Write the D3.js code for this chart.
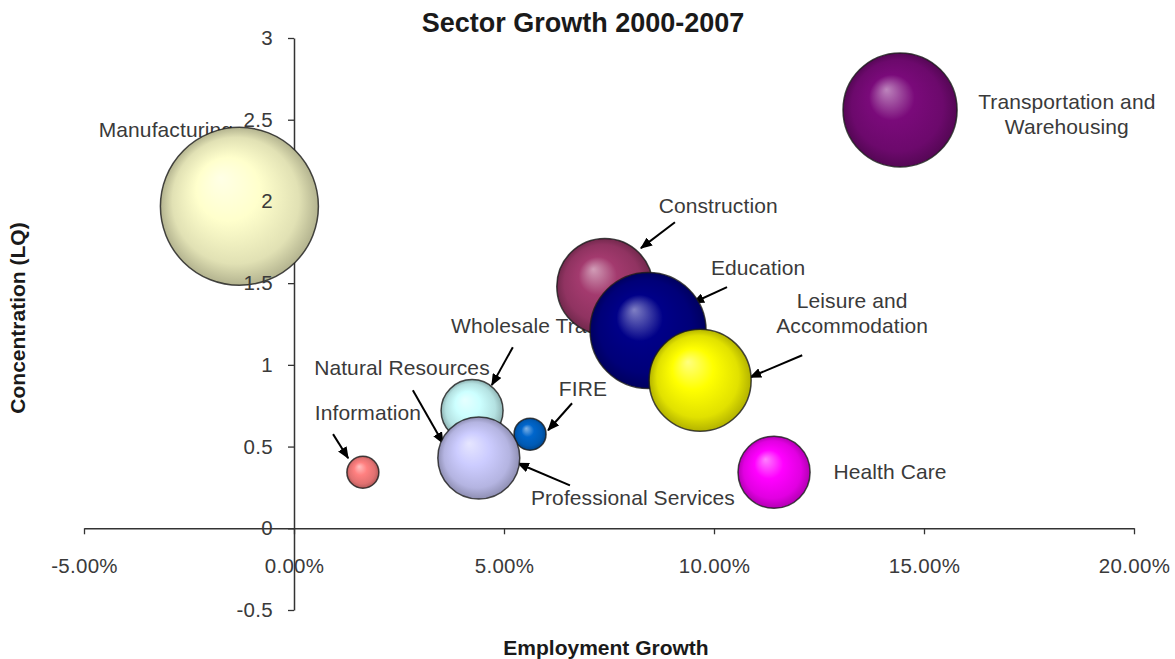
<!DOCTYPE html>
<html>
<head>
<meta charset="utf-8">
<script src="https://cdn.jsdelivr.net/npm/d3@7"></script>
<style>
  html, body { margin: 0; padding: 0; background: #fff; }
  svg { display: block; font-family: "Liberation Sans", Arial, sans-serif; }
</style>
</head>
<body>
<svg id="chart" width="1175" height="659"></svg>
<script>
// ---- data ----
const categories = ["Natural Resources", "Construction", "Manufacturing", "Wholesale Trade",
  "Transportation and Warehousing", "Information", "FIRE", "Professional Services",
  "Education", "Health Care", "Leisure and Accommodation"];
const growth = [0.039, 0.074, -0.013, 0.0424, 0.1443, 0.0164, 0.0562, 0.044, 0.0843, 0.1143, 0.0967];
const concentration = [0.52, 1.48, 1.97, 0.72, 2.56, 0.343, 0.576, 0.43, 1.21, 0.343, 0.906];
const bubbleSize = [2.3, 36.9, 100, 15.4, 52.1, 4.1, 4.1, 26.9, 53.9, 20.8, 41.7];
const colors = ["#9999FF", "#A33A6E", "#FFFFCC", "#CCFFFF", "#7A0A7A", "#FF8080",
  "#0066CC", "#CCCCFF", "#000088", "#FF00FF", "#FFFF00"];
const xTicks = [-0.05, 0, 0.05, 0.10, 0.15, 0.20];
const yTicks = [-0.5, 0, 0.5, 1, 1.5, 2, 2.5, 3];

// annotation label lines and anchor points (data units)
const labelLines = [["Natural Resources"], ["Construction"], ["Manufacturing"], ["Wholesale Trade"],
  ["Transportation and", "Warehousing"], ["Information"], ["FIRE"], ["Professional Services"],
  ["Education"], ["Health Care"], ["Leisure and", "Accommodation"]];
const labelX = [0.0257, 0.1010, -0.0305, 0.0374, 0.1840, 0.0176, 0.0688, 0.0807, 0.1105, 0.1419, 0.1329];
const labelY = [0.980, 1.971, 2.437, 1.237, 2.532, 0.704, 0.851, 0.184, 1.592, 0.343, 1.313];
const labelAnchor = ["middle", "middle", "middle", "start", "middle", "middle", "middle", "middle", "middle", "middle", "middle"];
const arrows = [[0.0283, 0.845, 0.0355, 0.520], [0.0907, 1.873, 0.0826, 1.714], null,
  [0.0521, 1.108, 0.0471, 0.876], null, [0.0093, 0.576, 0.0129, 0.429],
  [0.0662, 0.765, 0.0605, 0.600], [0.0657, 0.263, 0.0533, 0.398],
  [0.1031, 1.476, 0.0950, 1.380], null, [0.1210, 1.059, 0.1086, 0.924]];

const svg = d3.select("#chart");
const x = d3.scaleLinear().domain([-0.05, 0.20]).range([84, 1134]);
const y = d3.scaleLinear().domain([-0.5, 3]).range([610, 38]);
const r = d3.scaleSqrt().domain([0, 100]).range([0, 79]);

const defs = svg.append("defs");
defs.append("marker").attr("id", "arrow")
  .attr("viewBox", "0 0 12 10").attr("refX", 11).attr("refY", 5)
  .attr("markerWidth", 12).attr("markerHeight", 10)
  .attr("markerUnits", "userSpaceOnUse").attr("orient", "auto")
  .append("path").attr("d", "M0,0 L12,5 L0,10 Z").attr("fill", "#000");

colors.forEach((c, i) => {
  const base = d3.rgb(c);
  const g = defs.append("radialGradient").attr("id", "grad" + i)
    .attr("cx", "50%").attr("cy", "50%").attr("r", "50%")
    .attr("fx", "38%").attr("fy", "32%");
  g.append("stop").attr("offset", "0%").attr("stop-color", d3.interpolateRgb(base, "#fff")(0.5));
  g.append("stop").attr("offset", "40%").attr("stop-color", base.formatHex());
  g.append("stop").attr("offset", "80%").attr("stop-color", base.darker(0.35).formatHex());
  g.append("stop").attr("offset", "100%").attr("stop-color", base.darker(1.0).formatHex());
});

const fmtX = d => d3.format(".2%")(d).replace("\u2212", "-");
const fmtY = d => String(d);

// axes (lines only)
const xAxis = svg.append("g").attr("transform", `translate(0,${y(0)})`)
  .call(d3.axisBottom(x).tickValues(xTicks).tickSize(6).tickSizeOuter(0).tickFormat(() => ""));
const yAxis = svg.append("g").attr("transform", `translate(${x(0)},0)`)
  .call(d3.axisLeft(y).tickValues(yTicks).tickSize(6).tickSizeOuter(0).tickFormat(() => ""));
[xAxis, yAxis].forEach(a => {
  a.selectAll("path.domain").attr("stroke", "#333").attr("stroke-width", 1.5);
  a.selectAll(".tick line").attr("stroke", "#333").attr("stroke-width", 1.3);
});

// annotations
const ann = svg.append("g");
categories.forEach((cat, i) => {
  const a = arrows[i];
  if (a) {
    ann.append("line")
      .attr("x1", x(a[0])).attr("y1", y(a[1])).attr("x2", x(a[2])).attr("y2", y(a[3]))
      .attr("stroke", "#000").attr("stroke-width", 2).attr("marker-end", "url(#arrow)");
  }
  const lines = labelLines[i];
  const t = ann.append("text")
    .attr("x", x(labelX[i])).attr("y", y(labelY[i]))
    .attr("text-anchor", labelAnchor[i])
    .attr("font-size", 21).attr("fill", "#3a3a3a").attr("letter-spacing", 0.1);
  lines.forEach((ln, k) => {
    t.append("tspan").attr("x", x(labelX[i]))
      .attr("dy", k === 0 ? ((1 - lines.length) * 12.5 + 7) : 25).text(ln);
  });
});

// bubbles
svg.append("g").selectAll("circle").data(categories).join("circle")
  .attr("cx", (d, i) => x(growth[i]))
  .attr("cy", (d, i) => y(concentration[i]))
  .attr("r", (d, i) => r(bubbleSize[i]))
  .attr("fill", (d, i) => `url(#grad${i})`)
  .attr("stroke", "#1a1a1a").attr("stroke-width", 1.5).attr("stroke-opacity", 0.8);

// tick labels on top
const xl = svg.append("g").attr("transform", `translate(0,${y(0)})`)
  .call(d3.axisBottom(x).tickValues(xTicks).tickSize(0).tickPadding(30).tickFormat(fmtX));
const yl = svg.append("g").attr("transform", `translate(${x(0)},0)`)
  .call(d3.axisLeft(y).tickValues(yTicks).tickSize(0).tickPadding(21).tickFormat(fmtY));
[xl, yl].forEach(a => {
  a.select(".domain").remove();
  a.selectAll("text").attr("font-size", 20.5).attr("fill", "#3a3a3a")
    .attr("font-family", "Liberation Sans, Arial, sans-serif").attr("letter-spacing", 0.3);
});

// titles
svg.append("text").attr("x", 583).attr("y", 32).attr("text-anchor", "middle")
  .attr("font-size", 27).attr("font-weight", "bold").attr("fill", "#1a1a1a")
  .text("Sector Growth 2000-2007");
svg.append("text").attr("x", 606).attr("y", 655).attr("text-anchor", "middle")
  .attr("font-size", 21).attr("font-weight", "bold").attr("fill", "#1a1a1a")
  .text("Employment Growth");
svg.append("text").attr("transform", "translate(25,318) rotate(-90)").attr("text-anchor", "middle")
  .attr("font-size", 21).attr("font-weight", "bold").attr("fill", "#1a1a1a")
  .text("Concentration (LQ)");
</script>
</body>
</html>
